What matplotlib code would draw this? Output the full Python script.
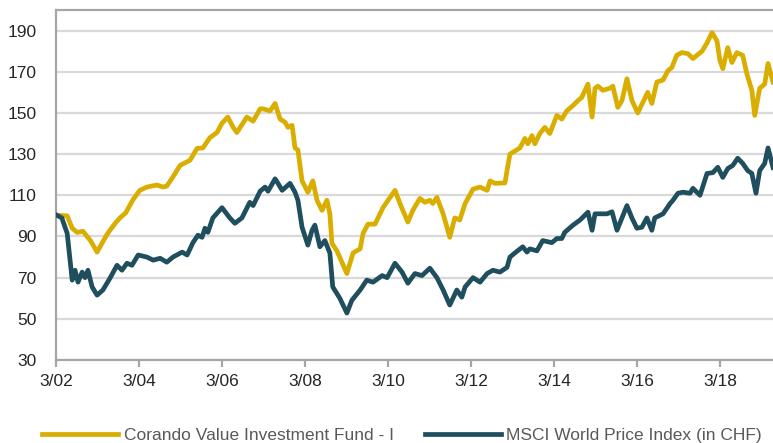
import matplotlib
matplotlib.use("Agg")
import matplotlib.pyplot as plt

plt.rcParams['font.family'] = ['Liberation Sans', 'DejaVu Sans']

# x values are decimal years (3/02 = 2002.17)
fund_x = [2002.19, 2002.44, 2002.56, 2002.68, 2002.82, 2003.00, 2003.16, 2003.30, 2003.40, 2003.47,
          2003.60, 2003.71, 2003.85, 2004.03,
          2004.19, 2004.36, 2004.60, 2004.75, 2004.84, 2004.99, 2005.16, 2005.40, 2005.57, 2005.71,
          2005.88, 2006.05, 2006.17, 2006.31, 2006.44, 2006.53, 2006.77, 2006.92, 2007.09, 2007.16,
          2007.33, 2007.45, 2007.57, 2007.69, 2007.76, 2007.86, 2007.93, 2008.00, 2008.10, 2008.24,
          2008.36, 2008.46, 2008.58, 2008.70, 2008.77, 2008.82, 2008.94, 2009.18, 2009.33, 2009.50,
          2009.57, 2009.69, 2009.86, 2010.05, 2010.34, 2010.46, 2010.65, 2010.77, 2010.94, 2011.06,
          2011.18, 2011.25, 2011.35, 2011.50, 2011.66, 2011.78, 2011.90, 2012.03, 2012.22, 2012.39,
          2012.56, 2012.63, 2012.75, 2012.99, 2013.04, 2013.11, 2013.35, 2013.47, 2013.54, 2013.64,
          2013.71, 2013.83, 2013.95, 2014.07, 2014.24, 2014.36, 2014.48, 2014.63, 2014.75, 2014.84,
          2014.99, 2015.09, 2015.16, 2015.23, 2015.35, 2015.52, 2015.59, 2015.71, 2015.81, 2015.93,
          2016.05, 2016.19, 2016.31, 2016.43, 2016.53, 2016.65, 2016.80, 2016.92, 2017.01, 2017.13,
          2017.25, 2017.40, 2017.52, 2017.74, 2017.86, 2017.98, 2018.10, 2018.17, 2018.24, 2018.36,
          2018.46, 2018.58, 2018.72, 2018.82, 2018.94, 2019.01, 2019.13, 2019.25, 2019.33, 2019.45]
fund_y = [100.3, 100.0, 94.0, 92.0, 92.5, 88.0, 82.4, 87.5, 91.0, 93.0,
          96.5, 99.0, 101.5, 108.0,
          112.4, 114.0, 115.0, 114.0, 114.5, 119.0, 124.5, 127.0, 132.8, 133.0,
          138.0, 140.5, 145.0, 148.0, 143.0, 140.5, 148.0, 146.0, 152.0, 152.0,
          151.0, 154.6, 147.0, 145.5, 143.0, 144.0, 133.0, 132.0, 117.0, 111.5,
          117.0, 107.6, 102.7, 107.6, 101.0, 86.7, 83.0, 72.0, 82.0, 84.0,
          91.5, 96.0, 96.0, 104.0, 112.4, 106.0, 97.0, 102.7, 108.5, 106.6,
          107.6, 106.0, 109.0, 101.0, 89.6, 99.0, 98.0, 106.0, 113.0, 114.0,
          112.4, 117.0, 115.8, 116.0, 122.0, 130.0, 133.0, 137.6, 135.0, 139.0,
          135.0, 140.0, 143.0, 140.0, 148.8, 147.0, 151.0, 153.6, 156.0, 157.5,
          164.0, 148.0, 162.0, 163.0, 161.0, 162.0, 163.0, 152.7, 156.0, 166.6,
          156.0, 150.0, 155.0, 160.0, 154.6, 165.0, 166.0, 170.6, 172.0, 178.0,
          179.3, 178.8, 176.4, 180.0, 184.0, 189.0, 185.0, 175.5, 171.5, 181.7,
          174.5, 179.3, 178.0, 169.0, 161.0, 148.8, 162.0, 164.0, 174.0, 165.0]

msci_x = [2002.19, 2002.31, 2002.44, 2002.56, 2002.63, 2002.70, 2002.80, 2002.87, 2002.94, 2003.04,
          2003.16, 2003.30, 2003.47, 2003.64, 2003.76, 2003.88, 2004.00, 2004.15, 2004.36, 2004.51,
          2004.68, 2004.84, 2004.99, 2005.21, 2005.33, 2005.47, 2005.59, 2005.69, 2005.76, 2005.83,
          2005.95, 2006.17, 2006.36, 2006.48, 2006.65, 2006.84, 2006.92, 2007.09, 2007.21, 2007.28,
          2007.45, 2007.52, 2007.62, 2007.81, 2007.93, 2008.00, 2008.10, 2008.24, 2008.34, 2008.41,
          2008.53, 2008.65, 2008.77, 2008.84, 2009.01, 2009.18, 2009.30, 2009.50, 2009.66, 2009.81,
          2010.03, 2010.15, 2010.34, 2010.51, 2010.65, 2010.82, 2010.99, 2011.18, 2011.35, 2011.50,
          2011.66, 2011.83, 2011.95, 2012.03, 2012.22, 2012.39, 2012.56, 2012.70, 2012.87, 2013.04,
          2013.11, 2013.23, 2013.42, 2013.52, 2013.59, 2013.76, 2013.90, 2014.12, 2014.24, 2014.36,
          2014.43, 2014.63, 2014.80, 2014.99, 2015.09, 2015.16, 2015.45, 2015.57, 2015.69, 2015.81,
          2015.93, 2016.05, 2016.17, 2016.29, 2016.41, 2016.53, 2016.60, 2016.80, 2016.97, 2017.04,
          2017.16, 2017.28, 2017.45, 2017.52, 2017.69, 2017.86, 2018.00, 2018.12, 2018.24, 2018.36,
          2018.48, 2018.60, 2018.72, 2018.84, 2018.94, 2019.04, 2019.13, 2019.25, 2019.33, 2019.45]
msci_y = [100.3, 99.0, 91.5, 68.8, 73.6, 67.8, 72.7, 70.0, 73.6, 65.5,
          61.5, 64.0, 69.7, 76.0, 73.6, 77.0, 76.0, 81.0, 80.0, 78.5,
          79.4, 77.5, 80.0, 82.4, 81.0, 87.0, 90.6, 89.6, 94.0, 92.0,
          99.0, 104.0, 99.0, 96.4, 99.0, 106.6, 105.0, 112.0, 114.0, 112.0,
          118.0, 115.8, 112.4, 115.8, 111.5, 107.6, 94.5, 85.8, 93.0, 95.5,
          85.0, 88.0, 82.0, 65.5, 60.0, 52.8, 59.0, 64.0, 68.8, 67.8,
          71.0, 70.0, 77.0, 72.7, 67.3, 72.0, 71.0, 74.6, 70.0, 64.0,
          56.7, 64.0, 60.5, 65.5, 70.0, 67.8, 72.0, 73.6, 72.7, 75.0,
          80.0, 82.0, 85.0, 82.4, 84.0, 83.0, 88.0, 87.0, 89.0, 89.0,
          92.0, 95.5, 98.0, 101.8, 93.0, 101.0, 101.0, 102.0, 93.0, 99.0,
          105.0, 99.0, 94.0, 94.5, 99.0, 93.0, 99.0, 101.0, 106.0, 107.6,
          111.0, 111.5, 111.0, 113.4, 110.0, 120.6, 121.0, 123.6, 118.7, 123.0,
          124.5, 128.0, 125.5, 122.0, 120.6, 111.0, 122.0, 125.5, 133.0, 123.5]

tick_years = [2002.17, 2004.17, 2006.17, 2008.17, 2010.17, 2012.17, 2014.17, 2016.17, 2018.17]
tick_labels = ['3/02', '3/04', '3/06', '3/08', '3/10', '3/12', '3/14', '3/16', '3/18']
y_ticks = [30, 50, 70, 90, 110, 130, 150, 170, 190]

gold = '#D9AE00'
teal = '#1F4E5E'

fig = plt.figure(figsize=(7.73, 4.43), dpi=100)
ax = fig.add_axes([56 / 773, 1 - 360 / 443, 1 - 56 / 773, 350 / 443])

ax.plot(fund_x, fund_y, color=gold, lw=3.4, solid_joinstyle='round',
        label='Corando Value Investment Fund - I', zorder=3)
ax.plot(msci_x, msci_y, color=teal, lw=3.4, solid_joinstyle='round',
        label='MSCI World Price Index (in CHF)', zorder=3)

ax.set_xlim(2002.17, 2019.45)
ax.set_ylim(30, 200)
ax.set_yticks(y_ticks)
ax.set_xticks(tick_years)
ax.set_xticklabels(tick_labels)

ax.yaxis.grid(True, color='#D9D9D9', lw=1.6)
ax.set_axisbelow(True)
for side in ['left', 'bottom', 'top']:
    ax.spines[side].set_color('#A6A6A6')
    ax.spines[side].set_linewidth(1.6)
ax.spines['right'].set_visible(False)

ax.tick_params(axis='y', length=0, pad=14, labelsize=12.5, labelcolor='#262626')
ax.tick_params(axis='x', length=5, width=1.6, color='#A6A6A6', pad=5,
               labelsize=12.5, labelcolor='#262626')

fig.legend(loc='center', bbox_to_anchor=(402 / 773, 1 - 435 / 443), ncol=2,
           frameon=False, fontsize=12.5, handlelength=4.4, handletextpad=0.3,
           columnspacing=1.8, labelcolor='#595959', borderpad=0)

fig.savefig('out.png', dpi=100)
